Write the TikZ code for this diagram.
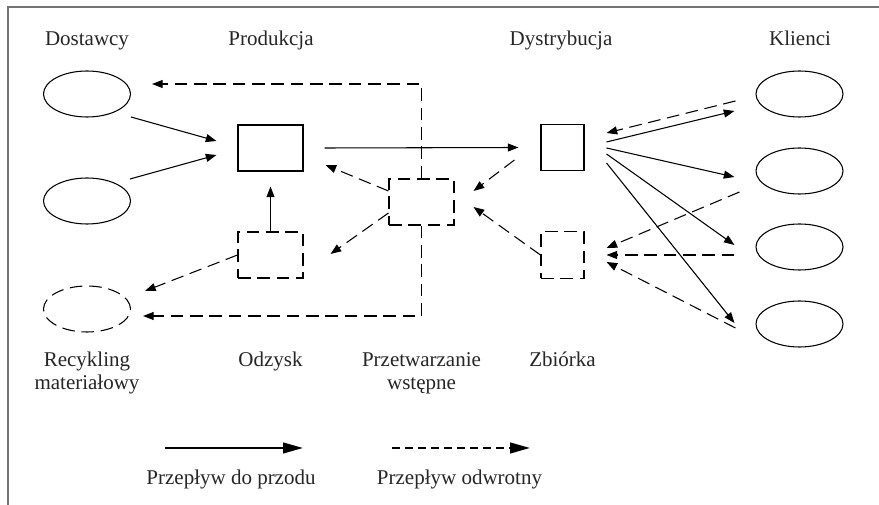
\documentclass[tikz,border=0pt]{standalone}
\usepackage{fontspec}
\setmainfont{Liberation Serif}
\usetikzlibrary{arrows.meta,shapes.geometric}
\begin{document}
\begin{tikzpicture}[x=0.75pt,y=-0.75pt,
  lbl/.style={font=\fontsize{15.75}{17.25}\selectfont, text=black!85, align=center, anchor=base, inner sep=0pt},
  oval/.style={ellipse, draw, line width=0.8pt, minimum width=65.25pt, minimum height=34.5pt, inner sep=0pt},
  box/.style={rectangle, draw, line width=0.8pt, inner sep=0pt, minimum width=48.75pt, minimum height=34.5pt},
  sbox/.style={box, minimum width=32.25pt, minimum height=35pt},
  dsh/.style={dash pattern=on 9.5pt off 5pt},
  fwd/.style={line width=0.8pt, -{Triangle[length=8pt,width=6pt]}},
  bwd/.style={fwd, dsh},
  legline/.style={line width=1.6pt, -{Triangle[length=15pt,width=8pt]}},
]
\useasboundingbox (0,0) rectangle (879,505);
\fill[white] (0,0) rectangle (879,505);
% frame
\draw[black!55, line width=0.8pt] (8,505) -- (8,7) -- (879,7);

% titles
\node[lbl] (tDost) at (87,46) {Dostawcy};
\node[lbl] (tProd) at (271,46) {Produkcja};
\node[lbl] (tDys) at (561,46) {Dystrybucja};
\node[lbl] (tKl) at (800,46) {Klienci};

% shapes
\node[oval] (d1) at (87,94) {};
\node[oval] (d2) at (87,201) {};
\node[oval,dsh] (rec) at (87,309) {};
\node[box] (prod) at (270.5,148) {};
\node[box,dsh] (odz) at (270.5,255) {};
\node[box,dsh] (prz) at (421.5,202) {};
\node[sbox] (dys) at (562.5,147.5) {};
\node[sbox,dsh] (zb) at (562.5,255) {};
\node[oval] (k1) at (799.5,94) {};
\node[oval] (k2) at (799.5,171) {};
\node[oval] (k3) at (799.5,247) {};
\node[oval] (k4) at (799.5,324) {};

% bottom labels
\node[lbl] (tRec) at (87,390) {Recykling\\materiałowy};
\node[lbl] (tOdz) at (270.5,367) {Odzysk};
\node[lbl] (tPrz) at (421.5,390) {Przetwarzanie\\wstępne};
\node[lbl] (tZb) at (562.5,367) {Zbiórka};

% forward flows
\draw[fwd] ([shift={(44,23)}]d1.center) -- ([shift={(-21,-7)}]prod.west);
\draw[fwd] ([shift={(43,-22)}]d2.center) -- ([shift={(-21,7)}]prod.west);
\draw[fwd] ([shift={(21,0)}]prod.east) -- ([shift={(-22,0)}]dys.west);
\draw[fwd] (odz.north) -- ([shift={(0,15)}]prod.south);
\draw[fwd] ([shift={(22,-5.5)}]dys.east) -- ([shift={(-21,17)}]k1.west);
\draw[fwd] ([shift={(22,0.5)}]dys.east) -- ([shift={(-21,6)}]k2.west);
\draw[fwd] ([shift={(22,6.5)}]dys.east) -- ([shift={(-21,-2)}]k3.west);
\draw[fwd] ([shift={(22,15.5)}]dys.east) -- ([shift={(-21,-1)}]k4.west);

% reverse flows
\draw[bwd] (prz.north) |- ([shift={(21,-10)}]d1.east);
\draw[bwd] (prz.south) |- ([shift={(12,7)}]rec.east);
\draw[bwd] ([shift={(0,-11)}]prz.west) -- ([shift={(22,17)}]prod.east);
\draw[bwd] ([shift={(0,11)}]prz.west) -- ([shift={(27,-1)}]odz.east);
\draw[bwd] ([shift={(-26,12.5)}]dys.west) -- ([shift={(19,-11)}]prz.east);
\draw[bwd] (zb.west) -- ([shift={(19,5)}]prz.east);
\draw[bwd] (odz.west) -- ([shift={(58,-18)}]rec.center);
\draw[bwd] ([shift={(-20,7)}]k1.west) -- ([shift={(22,-14.5)}]dys.east);
\draw[bwd] ([shift={(-16,21)}]k2.west) -- ([shift={(22,-7)}]zb.east);
\draw[bwd] ([shift={(-21,8)}]k3.west) -- ([shift={(22,0)}]zb.east);
\draw[bwd] ([shift={(-20,4)}]k4.west) -- ([shift={(22,7)}]zb.east);

% legend
\coordinate (ls1) at (165,448);
\coordinate (ls2) at (303,448);
\coordinate (ld1) at (392,448);
\coordinate (ld2) at (530,448);
\draw[legline] (ls1) -- (ls2);
\draw[legline, dash pattern=on 6pt off 3.75pt] (ld1) -- (ld2);
\node[lbl] (tFwd) at (231,485) {Przepływ do przodu};
\node[lbl] (tBwd) at (459.5,485) {Przepływ odwrotny};
\end{tikzpicture}
\end{document}
